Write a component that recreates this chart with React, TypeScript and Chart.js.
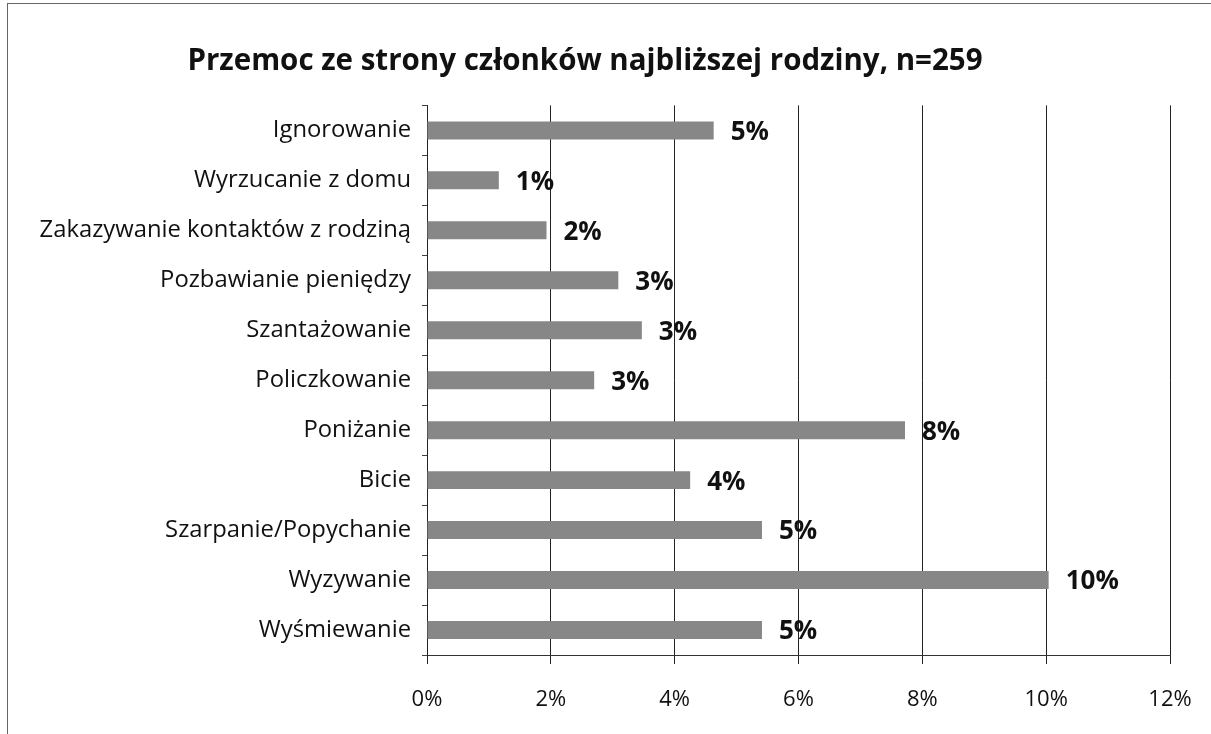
import React, { useEffect, useRef } from "react";
import { Chart, registerables } from "chart.js";

Chart.register(...registerables);

const TITLE = "Przemoc ze strony członków najbliższej rodziny, n=259";
const categories = [
  "Ignorowanie",
  "Wyrzucanie z domu",
  "Zakazywanie kontaktów z rodziną",
  "Pozbawianie pieniędzy",
  "Szantażowanie",
  "Policzkowanie",
  "Poniżanie",
  "Bicie",
  "Szarpanie/Popychanie",
  "Wyzywanie",
  "Wyśmiewanie",
];
const values = [4.63, 1.16, 1.93, 3.09, 3.47, 2.7, 7.72, 4.25, 5.41, 10.04, 5.41];
const xTicks = [0, 2, 4, 6, 8, 10, 12];

const FONT = "'Open Sans', Lato, sans-serif";

const labelPlugin = {
  id: "barLabels",
  afterDatasetsDraw(chart: any) {
    const ctx = chart.ctx;
    const meta = chart.getDatasetMeta(0);
    ctx.save();
    ctx.font = `bold 26px ${FONT}`;
    ctx.fillStyle = "#111";
    ctx.textAlign = "left";
    ctx.textBaseline = "middle";
    meta.data.forEach((bar: any, i: number) => {
      const v = chart.data.datasets[0].data[i] as number;
      ctx.fillText(`${Math.round(v)}%`, bar.x + 17, bar.y + 2);
    });
    ctx.restore();
  },
};

export default function App() {
  const ref = useRef<HTMLCanvasElement>(null);
  useEffect(() => {
    if (!ref.current) return;
    const chart = new Chart(ref.current, {
      type: "bar",
      data: {
        labels: categories,
        datasets: [
          {
            data: values,
            backgroundColor: "#878787",
            barPercentage: 0.36,
            categoryPercentage: 1,
          },
        ],
      },
      options: {
        indexAxis: "y",
        animation: false,
        responsive: false,
        maintainAspectRatio: false,
        layout: { padding: { left: 0, right: 41, top: 0, bottom: 0 } },
        plugins: {
          legend: { display: false },
          tooltip: { enabled: false },
          title: {
            display: true,
            text: TITLE,
            color: "#111",
            font: { family: FONT, size: 29.5, weight: "bold" },
            padding: { top: 44, bottom: 26 },
          },
        },
        scales: {
          x: {
            min: 0,
            max: 12,
            afterBuildTicks(scale: any) {
              scale.ticks = xTicks.map((v) => ({ value: v }));
            },
            afterFit(scale: any) {
              scale.height = 79;
              scale.paddingRight = 0;
              scale.paddingLeft = 0;
            },
            ticks: {
              callback: (v: any) => `${v}%`,
              color: "#111",
              font: { family: FONT, size: 22 },
              padding: 23,
            },
            grid: {
              color: "#222",
              lineWidth: 1,
              tickLength: 9,
              drawTicks: true,
            },
            border: { display: true, color: "#333", width: 1 },
          },
          y: {
            afterFit(scale: any) {
              scale.width = 427;
            },
            ticks: {
              color: "#111",
              font: { family: FONT, size: 23.8 },
              padding: 11,
            },
            grid: {
              drawOnChartArea: false,
              drawTicks: true,
              tickLength: 5,
              color: "#444",
            },
            border: { display: true, color: "#222", width: 1 },
          },
        },
      },
      plugins: [labelPlugin],
    });
    return () => chart.destroy();
  }, []);
  return (
    <div style={{ position: "absolute", left: 0, top: 0, width: 1211, height: 734, background: "#fff" }}>
      <div
        style={{
          position: "absolute",
          left: 7,
          top: 3,
          width: 1204,
          height: 731,
          borderLeft: "1px solid #666",
          borderTop: "1px solid #666",
        }}
      />
      <canvas ref={ref} width={1211} height={734} style={{ position: "absolute", left: 0, top: 0 }} />
    </div>
  );
}
